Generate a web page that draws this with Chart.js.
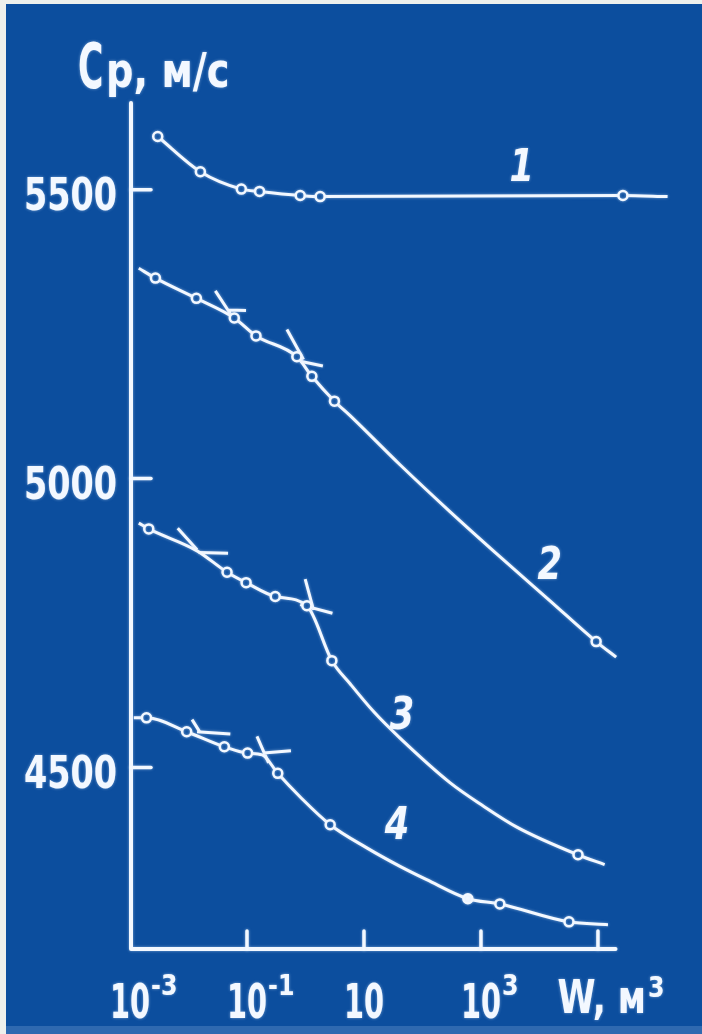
<!DOCTYPE html>
<html>
<head>
<meta charset="utf-8">
<script src="https://cdn.jsdelivr.net/npm/chart.js@4.4.1/dist/chart.umd.min.js"></script>
<style>
  html, body { margin: 0; padding: 0; background: #eef0ec; }
  #wrap { width: 702px; height: 1034px; position: relative; }
  canvas { display: block; }
</style>
</head>
<body>
<div id="wrap"><canvas id="c" width="702" height="1034"></canvas></div>
<script>
// Wave velocity Cp (m/s) versus sample volume W (m^3), log10(W) on the x axis.

// Curve 1
const curve1LogW = [-2.526, -1.797, -1.097, -0.785, -0.090, 0.251, 5.427, 6.19];
const curve1Cp   = [5592, 5531, 5501, 5497, 5490, 5488, 5490, 5488];
const curve1Mark = [1, 1, 1, 1, 1, 1, 1, 0];

// Curve 2
const curve2LogW = [-2.850, -2.565, -1.865, -1.217, -0.846, -0.147, 0.109, 0.495, 0.763, 1.616, 2.469, 3.323, 4.176, 4.969, 5.311];
const curve2Cp   = [5364, 5347, 5312, 5278, 5247, 5211, 5177, 5134, 5109, 5024, 4943, 4865, 4789, 4718, 4691];
const curve2Mark = [0, 1, 1, 1, 1, 1, 1, 1, 0, 0, 0, 0, 0, 1, 0];

// Curve 3
const curve3LogW = [-2.850, -2.679, -1.853, -1.341, -1.015, -0.517, 0.024, 0.451, 0.763, 1.172, 1.616, 2.469, 3.032, 3.613, 4.659, 5.114];
const curve3Cp   = [4923, 4913, 4875, 4838, 4820, 4796, 4780, 4685, 4645, 4596, 4551, 4474, 4434, 4397, 4349, 4332];
const curve3Mark = [0, 1, 0, 1, 1, 1, 1, 1, 0, 0, 0, 0, 0, 0, 1, 0];

// Curve 4 (2 = filled point)
const curve4LogW = [-2.935, -2.718, -2.031, -1.387, -0.990, -0.739, -0.474, -0.090, 0.422, 1.048, 1.616, 2.072, 2.776, 3.323, 4.505, 5.171];
const curve4Cp   = [4586, 4586, 4562, 4536, 4525, 4522, 4490, 4449, 4401, 4361, 4329, 4306, 4273, 4264, 4233, 4228];
const curve4Mark = [0, 1, 1, 1, 1, 0, 1, 0, 1, 0, 0, 0, 2, 1, 1, 0];

// Short strokes marking the break points on curves 2-4 (start / end of each stroke)
const breakFromLogW = [-1.541, -1.314, -0.317, -0.090, -2.184, -1.826, -0.005, -0.090, -1.939, -1.853, -0.829, -0.717];
const breakFromCp   = [5325, 5292, 5258, 5203, 4914, 4872, 4826, 4782, 4583, 4562, 4554, 4525];
const breakToLogW   = [-1.256, -1.017, -0.034, 0.297, -1.853, -1.324, 0.137, 0.461, -1.797, -1.285, -0.631, -0.249];
const breakToCp     = [5281, 5291, 5206, 5195, 4877, 4871, 4773, 4767, 4560, 4558, 4508, 4529];

// Curve numbers
const curveLabels    = ['1', '2', '3', '4'];
const curveLabelLogW = [3.698, 4.176, 1.650, 1.565];
const curveLabelCp   = [5543, 4854, 4595, 4404];

// Axis ticks and extent of the drawn axes
const yTicks     = [4500, 5000, 5500];
const xTickExp   = [-3, -1, 1, 3, 5];
const xTickBase  = ['10', '10', '10', '10', ''];
const xTickSup   = ['-3', '-1', '', '3', ''];
const xAxisEndExp = 5.3;

const BG = '#0c4e9e';
const INK = '#f3f8ff';
const GLOW = 'rgba(210,230,255,0.55)';
const FONT = '"DejaVu Sans", "Liberation Sans", sans-serif';

function curveDataset(logW, cp, mark) {
  return {
    data: logW.map((e, i) => ({ x: Math.pow(10, e), y: cp[i] })),
    borderColor: INK,
    borderWidth: 3,
    pointRadius: mark.map(m => (m ? 4.5 : 0)),
    pointBorderWidth: 2.5,
    pointBorderColor: INK,
    pointBackgroundColor: mark.map(m => (m === 2 ? INK : BG)),
    cubicInterpolationMode: 'monotone',
    fill: false,
    clip: false
  };
}

const breakData = [];
breakFromLogW.forEach((e, i) => {
  breakData.push({ x: Math.pow(10, e), y: breakFromCp[i] });
  breakData.push({ x: Math.pow(10, breakToLogW[i]), y: breakToCp[i] });
  breakData.push({ x: Math.pow(10, breakToLogW[i]), y: null });
});

function drawText(ctx, s, x, y, size, sx, align, italic) {
  ctx.save();
  ctx.font = (italic ? 'italic ' : '') + 'bold ' + size + 'px ' + FONT;
  ctx.textBaseline = 'alphabetic';
  ctx.textAlign = 'left';
  const w = ctx.measureText(s).width * sx;
  const left = align === 'center' ? x - w / 2 : align === 'right' ? x - w : x;
  ctx.translate(left, y);
  ctx.scale(sx, 1);
  ctx.fillText(s, 0, 0);
  ctx.restore();
  return left + w;
}

const framePlugin = {
  id: 'frame',
  beforeDraw(chart) {
    const ctx = chart.ctx;
    const W = chart.width, H = chart.height;
    ctx.save();
    ctx.fillStyle = '#eef0ec';
    ctx.fillRect(0, 0, W, H);
    ctx.fillStyle = BG;
    ctx.fillRect(6, 4, W - 6, H - 4);
    ctx.fillStyle = '#2f69b0';
    ctx.fillRect(6, H - 8, W - 6, 8);
    ctx.restore();
  },
  beforeDatasetsDraw(chart) {
    const ctx = chart.ctx;
    const xs = chart.scales.x, ys = chart.scales.y;
    const x0 = xs.getPixelForValue(xs.min) + 1;
    const yb = ys.getPixelForValue(ys.min);
    const yt = ys.getPixelForValue(ys.max);
    const xr = xs.getPixelForValue(Math.pow(10, xAxisEndExp));
    ctx.save();
    ctx.shadowColor = GLOW;
    ctx.shadowBlur = 3;
    ctx.strokeStyle = INK;
    ctx.fillStyle = INK;
    ctx.lineCap = 'round';
    ctx.lineJoin = 'round';
    ctx.lineWidth = 4;
    ctx.beginPath();
    ctx.moveTo(x0, yt);
    ctx.lineTo(x0, yb);
    ctx.lineTo(xr, yb);
    ctx.stroke();

    ctx.lineWidth = 3.5;
    yTicks.forEach(v => {
      const y = ys.getPixelForValue(v);
      ctx.beginPath();
      ctx.moveTo(x0, y);
      ctx.lineTo(x0 + 20, y);
      ctx.stroke();
      drawText(ctx, String(v), x0 - 14, y + 20, 44, 0.76, 'right');
    });

    xTickExp.forEach((e, i) => {
      const x = xs.getPixelForValue(Math.pow(10, e));
      if (e > -3) {
        ctx.beginPath();
        ctx.moveTo(x, yb);
        ctx.lineTo(x, yb - 18);
        ctx.stroke();
      }
      if (xTickBase[i]) {
        const end = drawText(ctx, xTickBase[i], x, yb + 69, 48, 0.6, 'center');
        if (xTickSup[i]) drawText(ctx, xTickSup[i], end + 1, yb + 46, 28, 0.85, 'left');
      }
    });

    // axis titles
    const wEnd = drawText(ctx, 'W, м', xr - 58, yb + 64, 46, 0.75, 'left');
    drawText(ctx, '3', wEnd + 2, yb + 48, 28, 0.85, 'left');
    drawText(ctx, 'C', x0 - 53, yt - 15, 63, 0.55, 'left');
    drawText(ctx, 'p, м/с', x0 - 25, yt - 16, 48, 0.8, 'left');
    ctx.restore();

    ctx.save();
    ctx.shadowColor = GLOW;
    ctx.shadowBlur = 3;
  },
  afterDatasetsDraw(chart) {
    const ctx = chart.ctx;
    ctx.restore();
    const xs = chart.scales.x, ys = chart.scales.y;
    ctx.save();
    ctx.shadowColor = GLOW;
    ctx.shadowBlur = 3;
    ctx.fillStyle = INK;
    curveLabels.forEach((s, i) => {
      const x = xs.getPixelForValue(Math.pow(10, curveLabelLogW[i]));
      const y = ys.getPixelForValue(curveLabelCp[i]);
      drawText(ctx, s, x, y + 16, 44, 0.8, 'center', true);
    });
    ctx.restore();
  }
};

new Chart(document.getElementById('c'), {
  type: 'line',
  data: {
    datasets: [
      curveDataset(curve1LogW, curve1Cp, curve1Mark),
      curveDataset(curve2LogW, curve2Cp, curve2Mark),
      curveDataset(curve3LogW, curve3Cp, curve3Mark),
      curveDataset(curve4LogW, curve4Cp, curve4Mark),
      {
        data: breakData,
        borderColor: INK,
        borderWidth: 3,
        pointRadius: 0,
        tension: 0,
        spanGaps: false,
        fill: false,
        clip: false
      }
    ]
  },
  options: {
    responsive: false,
    animation: false,
    events: [],
    layout: { padding: { left: 130, right: 28, top: 103, bottom: 85 } },
    plugins: { legend: { display: false }, tooltip: { enabled: false } },
    scales: {
      x: { type: 'logarithmic', min: 1e-3, max: Math.pow(10, 6.3), display: false },
      y: { type: 'linear', min: 4186, max: 5650, display: false }
    }
  },
  plugins: [framePlugin]
});
</script>
</body>
</html>
